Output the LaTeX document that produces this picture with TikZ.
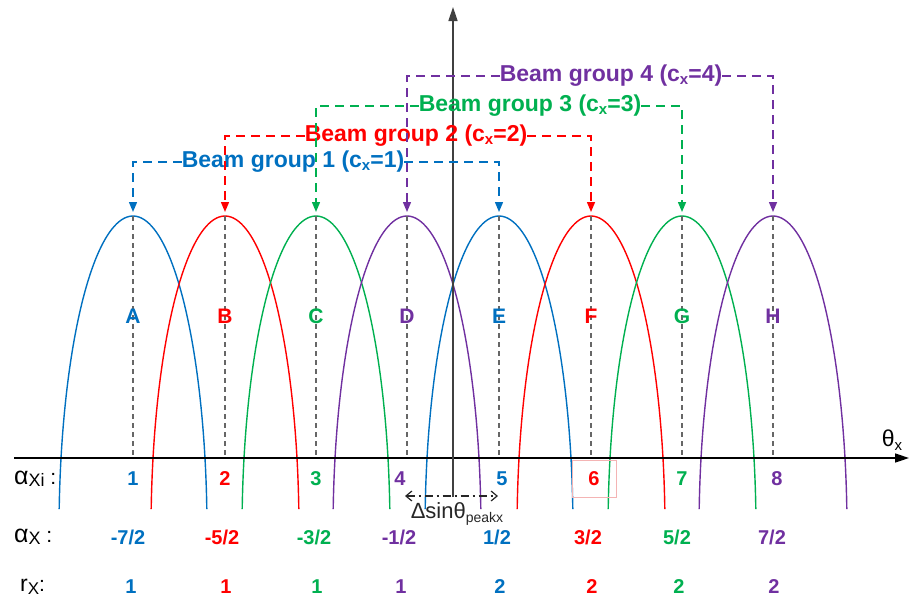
\documentclass[tikz,border=0pt]{standalone}
\usepackage{fontspec}
\setmainfont{Liberation Sans}
\usetikzlibrary{arrows.meta}
\definecolor{cblue}{RGB}{0,112,192}
\definecolor{cred}{RGB}{255,0,0}
\definecolor{cgreen}{RGB}{0,176,80}
\definecolor{cpurple}{RGB}{112,48,160}
\definecolor{cpink}{RGB}{244,180,180}
\begin{document}
\begin{tikzpicture}[x=1pt,y=-1pt,
  curve/.style={line width=1.4pt},
  vdash/.style={line width=1.3pt, draw=black!60, dash pattern=on 5pt off 4pt},
  axisline/.style={line width=1.6pt, draw=black, -{Triangle[length=14pt,width=9pt]}},
  bline/.style={line width=1.4pt, dash pattern=on 9pt off 6pt},
  barrow/.style={bline, -{Triangle[length=10pt,width=8pt]}, shorten >=4pt},
  blab/.style={font=\fontsize{23}{26}\selectfont\bfseries, inner sep=0pt},
  peaklbl/.style={font=\fontsize{21}{24}\selectfont\bfseries, inner sep=0pt},
  numlbl/.style={font=\fontsize{20}{24}\selectfont\bfseries, inner sep=0pt},
  rowlbl/.style={anchor=west, inner sep=0pt, text=black},
  darr/.style={line width=1.2pt, draw=black!85, dash pattern=on 8pt off 4pt on 2pt off 4pt, {Straight Barb[length=6pt,width=10pt]}-{Straight Barb[length=6pt,width=10pt]}}
]
\useasboundingbox (0,0) rectangle (917,600);

% beam curves
\foreach \n/\px/\c in {A/133/cblue, B/225/cred, C/316/cgreen, D/407/cpurple, E/499/cblue, F/591/cred, G/682/cgreen, H/773/cpurple}{
  \draw[curve, \c] plot[variable=\t, domain=4:176, samples=90, smooth] ({\px+74*cos(\t)},{531-315*sin(\t)});
}

% peaks, dashed verticals, letters
\foreach \n/\px/\c in {A/133/cblue, B/225/cred, C/316/cgreen, D/407/cpurple, E/499/cblue, F/591/cred, G/682/cgreen, H/773/cpurple}{
  \coordinate (p\n) at (\px,216);
  \coordinate (b\n) at (\px,458);
  \draw[vdash] (p\n) -- (b\n);
  \node[peaklbl, text=\c] (L\n) at (\px,316) {\n};
}

% axes
\coordinate (xs) at (14,458);
\coordinate (xe) at (909,458);
\coordinate (ys) at (453,497);
\coordinate (ye) at (453,7);
\draw[axisline] (xs) -- (xe);
\draw[axisline, draw=black!75] (ys) -- (ye);
\node[inner sep=0pt, font=\fontsize{23}{26}\selectfont] (thx) at (892,440) {θ\raisebox{-4pt}{\fontsize{15}{15}\selectfont x}};

% beam group brackets
\node[blab, text=cblue] (G1) at (293,162) {Beam group 1 (c\raisebox{-3pt}{\fontsize{15}{15}\selectfont x}=1)};
\node[blab, text=cred] (G2) at (416,136) {Beam group 2 (c\raisebox{-3pt}{\fontsize{15}{15}\selectfont x}=2)};
\node[blab, text=cgreen] (G3) at (530,106) {Beam group 3 (c\raisebox{-3pt}{\fontsize{15}{15}\selectfont x}=3)};
\node[blab, text=cpurple] (G4) at (611,76) {Beam group 4 (c\raisebox{-3pt}{\fontsize{15}{15}\selectfont x}=4)};

\draw[barrow, cblue] (G1.west) -| (pA);
\draw[barrow, cblue] (G1.east) -| (pE);
\draw[barrow, cred] (G2.west) -| (pB);
\draw[barrow, cred] (G2.east) -| (pF);
\draw[barrow, cgreen] (G3.west) -| (pC);
\draw[barrow, cgreen] (G3.east) -| (pG);
\draw[barrow, cpurple] (G4.west) -| (pD);
\draw[barrow, cpurple] (G4.east) -| (pH);

% index row
\foreach \k/\px/\c in {1/133/cblue, 2/225/cred, 3/316/cgreen, 4/400/cpurple, 5/502/cblue, 6/594/cred, 7/682/cgreen, 8/777/cpurple}{
  \node[numlbl, text=\c] (i\k) at (\px,479) {\k};
}
% alpha row
\foreach \k/\px/\c/\v in {1/128/cblue/-7\slash 2, 2/222/cred/-5\slash 2, 3/314/cgreen/-3\slash 2, 4/399/cpurple/-1\slash 2, 5/497/cblue/1\slash 2, 6/588/cred/3\slash 2, 7/677/cgreen/5\slash 2, 8/772/cpurple/7\slash 2}{
  \node[numlbl, text=\c] (a\k) at (\px,537) {\v};
}
% r row
\foreach \k/\px/\c/\v in {1/131/cblue/1, 2/226/cred/1, 3/317/cgreen/1, 4/401/cpurple/1, 5/500/cblue/2, 6/592/cred/2, 7/679/cgreen/2, 8/774/cpurple/2}{
  \node[numlbl, text=\c] (r\k) at (\px,587) {\v};
}

% row labels
\node[rowlbl] (rl1) at (14,479) {\fontsize{25}{25}\selectfont α\raisebox{-2pt}{\fontsize{18}{18}\selectfont Xi}\fontsize{21}{21}\selectfont\ :};
\node[rowlbl] (rl2) at (14,537) {\fontsize{25}{25}\selectfont α\raisebox{-2pt}{\fontsize{18}{18}\selectfont X}\fontsize{21}{21}\selectfont\ :};
\node[rowlbl] (rl3) at (20,587) {\fontsize{23}{23}\selectfont r\raisebox{-3pt}{\fontsize{17}{17}\selectfont X}\fontsize{21}{21}\selectfont:};

% delta sin arrow
\coordinate (dl) at (405,496);
\coordinate (dr) at (498,496);
\draw[darr] (dl) -- (dr);
\node[inner sep=0pt, font=\fontsize{22}{24}\selectfont, text=black!85] (dlab) at (457,514) {Δsinθ\raisebox{-4pt}{\fontsize{14}{14}\selectfont peakx}};

% pink box
\draw[cpink, line width=0.8pt] (572,460) rectangle (616,497);
\end{tikzpicture}
\end{document}
